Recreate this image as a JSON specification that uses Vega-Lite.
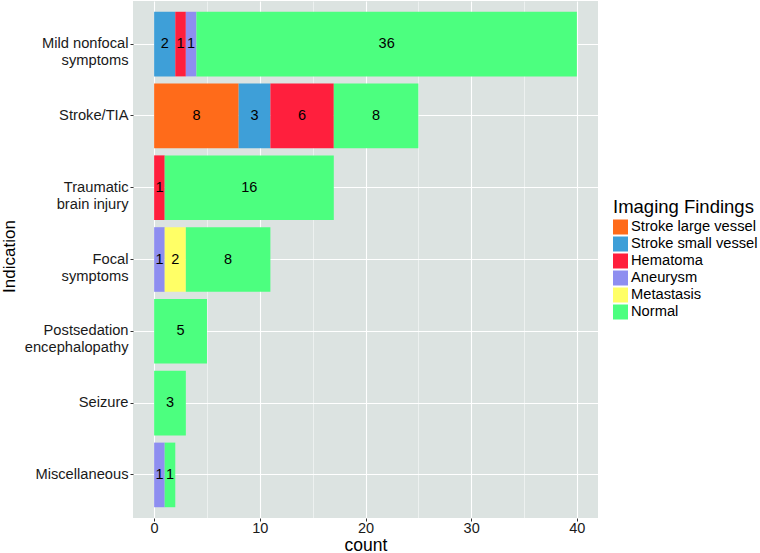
{
  "$schema": "https://vega.github.io/schema/vega-lite/v6.json",
  "width": 465,
  "height": 517,
  "autosize": {"type": "none"},
  "padding": {"left": 133, "top": 1, "right": 162, "bottom": 35},
  "background": "white",
  "config": {
    "view": {"fill": "#DCE3E1", "stroke": null},
    "font": "Liberation Sans"
  },
  "data": {
    "values": [
      {"indication": "Mild nonfocal\nsymptoms", "finding": "Stroke small vessel", "count": 2},
      {"indication": "Mild nonfocal\nsymptoms", "finding": "Hematoma", "count": 1},
      {"indication": "Mild nonfocal\nsymptoms", "finding": "Aneurysm", "count": 1},
      {"indication": "Mild nonfocal\nsymptoms", "finding": "Normal", "count": 36},
      {"indication": "Stroke/TIA", "finding": "Stroke large vessel", "count": 8},
      {"indication": "Stroke/TIA", "finding": "Stroke small vessel", "count": 3},
      {"indication": "Stroke/TIA", "finding": "Hematoma", "count": 6},
      {"indication": "Stroke/TIA", "finding": "Normal", "count": 8},
      {"indication": "Traumatic\nbrain injury", "finding": "Hematoma", "count": 1},
      {"indication": "Traumatic\nbrain injury", "finding": "Normal", "count": 16},
      {"indication": "Focal\nsymptoms", "finding": "Aneurysm", "count": 1},
      {"indication": "Focal\nsymptoms", "finding": "Metastasis", "count": 2},
      {"indication": "Focal\nsymptoms", "finding": "Normal", "count": 8},
      {"indication": "Postsedation\nencephalopathy", "finding": "Normal", "count": 5},
      {"indication": "Seizure", "finding": "Normal", "count": 3},
      {"indication": "Miscellaneous", "finding": "Aneurysm", "count": 1},
      {"indication": "Miscellaneous", "finding": "Normal", "count": 1}
    ]
  },
  "transform": [
    {"calculate": "indexof(['Stroke large vessel','Stroke small vessel','Hematoma','Aneurysm','Metastasis','Normal'], datum.finding)", "as": "ord"},
    {"stack": "count", "groupby": ["indication"], "sort": [{"field": "ord", "order": "ascending"}], "as": ["x0", "x1"]},
    {"calculate": "(datum.x0 + datum.x1) / 2", "as": "mid"}
  ],
  "encoding": {
    "y": {
      "field": "indication",
      "type": "nominal",
      "sort": ["Mild nonfocal\nsymptoms", "Stroke/TIA", "Traumatic\nbrain injury", "Focal\nsymptoms", "Postsedation\nencephalopathy", "Seizure", "Miscellaneous"],
      "scale": {"paddingInner": 0.1, "paddingOuter": 0.15},
      "title": "Indication",
      "axis": {
        "labelExpr": "split(datum.label, '\\n')",
        "labelFontSize": 14.7,
        "labelColor": "#1a1a1a",
        "labelLineHeight": 17,
        "labelPadding": 2,
        "labelLimit": 300,
        "bandPosition": 0.5,
        "domain": false,
        "ticks": true,
        "tickSize": 3,
        "tickColor": "#333333",
        "grid": true,
        "gridColor": "white",
        "gridWidth": 1.1,
        "titleFontSize": 17,
        "titleFontWeight": "normal",
        "titleColor": "black",
        "titleX": -124,
        "titleY": 255,
        "titleAngle": -90,
        "titleAlign": "center",
        "titleBaseline": "middle"
      }
    }
  },
  "layer": [
    {
      "mark": {"type": "bar"},
      "encoding": {
        "x": {
          "field": "x0",
          "type": "quantitative",
          "scale": {"domain": [-2, 42], "nice": false, "zero": false},
          "title": "count",
          "axis": {
            "values": [0, 5, 10, 15, 20, 25, 30, 35, 40],
            "labelExpr": "datum.value % 10 === 0 ? datum.label : ''",
            "labelFontSize": 14.5,
            "labelColor": "#1a1a1a",
            "labelPadding": 0,
            "domain": false,
            "tickSize": 3,
            "tickColor": "#333333",
            "tickOpacity": {"condition": {"test": "datum.value % 10 !== 0", "value": 0}, "value": 1},
            "grid": true,
            "gridColor": "white",
            "gridWidth": {"condition": {"test": "datum.value % 10 === 0", "value": 1.1}, "value": 0.5},
            "titleFontSize": 17.5,
            "titleFontWeight": "normal",
            "titleColor": "black",
            "titleBaseline": "alphabetic",
            "titleY": 32
          }
        },
        "x2": {"field": "x1"},
        "color": {
          "field": "finding",
          "type": "nominal",
          "scale": {
            "domain": ["Stroke large vessel", "Stroke small vessel", "Hematoma", "Aneurysm", "Metastasis", "Normal"],
            "range": ["#FF6B1A", "#3E9FD8", "#FF1F3D", "#8E8EF0", "#FFFF66", "#4CFF7F"]
          },
          "legend": {
            "title": "Imaging Findings",
            "orient": "none",
            "legendX": 480,
            "legendY": 197,
            "padding": 0,
            "titleFontSize": 18.5,
            "titleFontWeight": "normal",
            "titleColor": "black",
            "titlePadding": 3,
            "labelFontSize": 14.7,
            "labelColor": "black",
            "labelOffset": 3,
            "labelLimit": 300,
            "symbolType": "square",
            "symbolSize": 225,
            "symbolStrokeWidth": 0,
            "symbolOpacity": 1,
            "rowPadding": 1
          }
        }
      }
    },
    {
      "mark": {"type": "text", "fontSize": 14.5, "color": "black", "baseline": "middle", "align": "center"},
      "encoding": {
        "x": {"field": "mid", "type": "quantitative"},
        "text": {"field": "count", "type": "quantitative"}
      }
    }
  ]
}
